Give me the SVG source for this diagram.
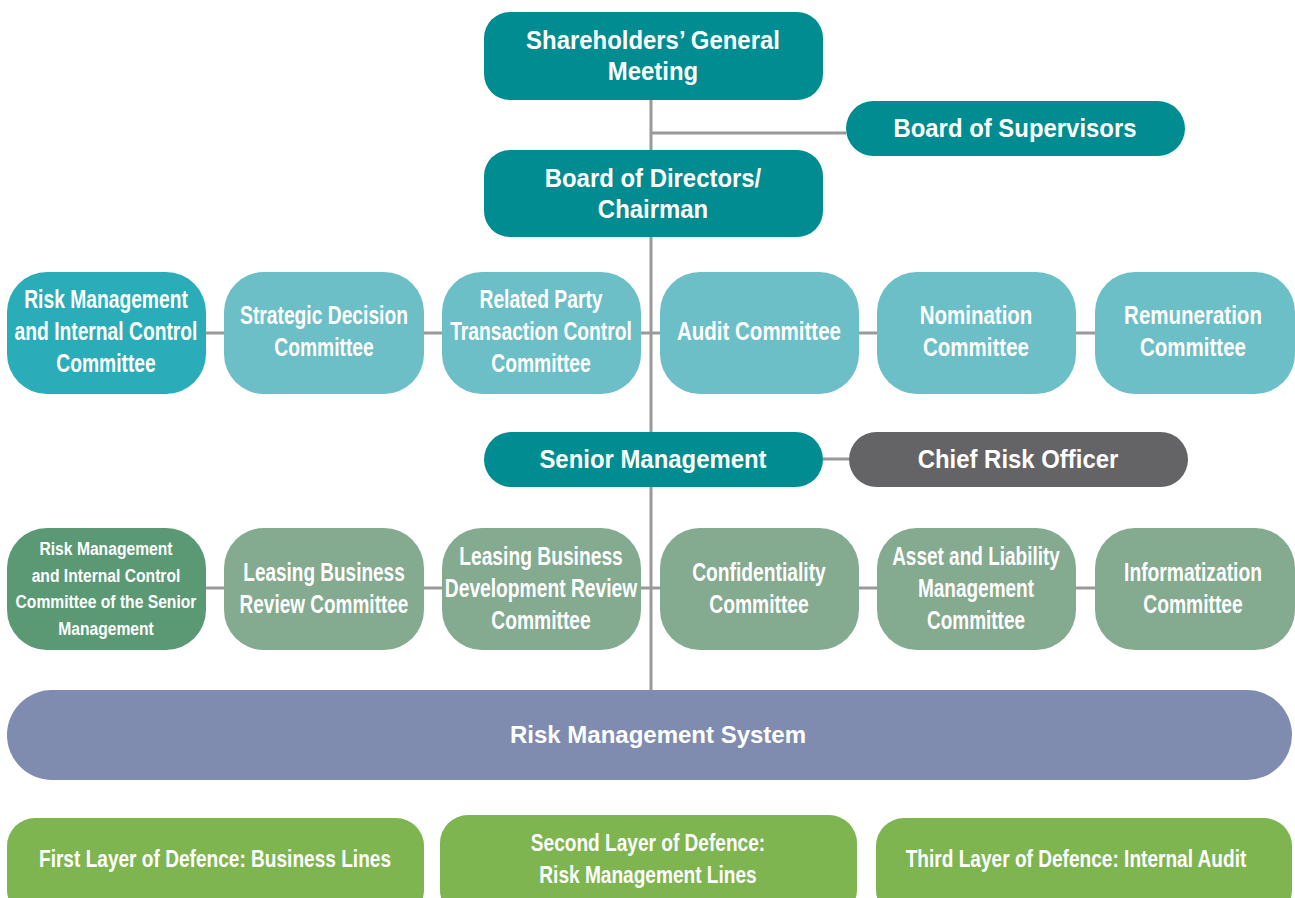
<svg xmlns="http://www.w3.org/2000/svg" width="1295" height="898" viewBox="0 0 1295 898">
<style>
.t{font-family:"Liberation Sans",Arial,sans-serif;font-weight:bold;fill:#fff;text-anchor:middle}
.big{font-size:26px}
.mid{font-size:25px}
.sm{font-size:18px}
.bot{font-size:23px}
.rms{font-size:24px}
.ln{stroke:#999;stroke-width:3;fill:none}
.teal{fill:#008C90}
.c1{fill:#2AADB8}
.c2{fill:#6CBEC7}
.g1{fill:#5A9973}
.g2{fill:#84AA8F}
.gr{fill:#7EB551}
</style>
<rect width="1295" height="898" fill="#fff"/>
<g id="connectors">
<line class="ln" x1="651" y1="100" x2="651" y2="690"/>
<line class="ln" x1="651" y1="133" x2="846" y2="133"/>
<line class="ln" x1="206" y1="333" x2="1095" y2="333"/>
<line class="ln" x1="823" y1="459" x2="849" y2="459"/>
<line class="ln" x1="206" y1="588" x2="1095" y2="588"/>
</g>
<g id="shareholders"><rect class="teal" x="484" y="12" width="339" height="88" rx="26"/><g transform="translate(653 0) scale(0.92 1)"><text class="t big" x="0" y="49">Shareholders’ General</text><text class="t big" x="0" y="80">Meeting</text></g></g>
<g id="supervisors"><rect class="teal" x="846" y="101" width="339" height="55" rx="27.5"/><g transform="translate(1015 0) scale(0.92 1)"><text class="t big" x="0" y="137">Board of Supervisors</text></g></g>
<g id="directors"><rect class="teal" x="484" y="150" width="339" height="87" rx="26"/><g transform="translate(653 0) scale(0.92 1)"><text class="t big" x="0" y="187">Board of Directors/</text><text class="t big" x="0" y="218">Chairman</text></g></g>
<g id="rmicc"><rect class="c1" x="7" y="272" width="199" height="122" rx="40"/><g transform="translate(106 0) scale(0.77 1)"><text class="t mid" x="0" y="308">Risk Management</text><text class="t mid" x="0" y="340">and Internal Control</text><text class="t mid" x="0" y="372">Committee</text></g></g>
<g id="strategic"><rect class="c2" x="224" y="272" width="200" height="122" rx="40"/><g transform="translate(324 0) scale(0.77 1)"><text class="t mid" x="0" y="324">Strategic Decision</text><text class="t mid" x="0" y="356">Committee</text></g></g>
<g id="related"><rect class="c2" x="442" y="272" width="199" height="122" rx="40"/><g transform="translate(541 0) scale(0.77 1)"><text class="t mid" x="0" y="308">Related Party</text><text class="t mid" x="0" y="340">Transaction Control</text><text class="t mid" x="0" y="372">Committee</text></g></g>
<g id="audit"><rect class="c2" x="660" y="272" width="199" height="122" rx="40"/><g transform="translate(759 0) scale(0.82 1)"><text class="t mid" x="0" y="340">Audit Committee</text></g></g>
<g id="nomination"><rect class="c2" x="877" y="272" width="199" height="122" rx="40"/><g transform="translate(976 0) scale(0.82 1)"><text class="t mid" x="0" y="324">Nomination</text><text class="t mid" x="0" y="356">Committee</text></g></g>
<g id="remuneration"><rect class="c2" x="1095" y="272" width="200" height="122" rx="40"/><g transform="translate(1193 0) scale(0.82 1)"><text class="t mid" x="0" y="324">Remuneration</text><text class="t mid" x="0" y="356">Committee</text></g></g>
<g id="senior"><rect class="teal" x="484" y="432" width="339" height="55" rx="27.5"/><g transform="translate(653 0) scale(0.92 1)"><text class="t big" x="0" y="468">Senior Management</text></g></g>
<g id="cro"><rect fill="#646466" x="849" y="432" width="339" height="55" rx="27.5"/><g transform="translate(1018 0) scale(0.92 1)"><text class="t big" x="0" y="468">Chief Risk Officer</text></g></g>
<g id="rmiccsm"><rect class="g1" x="7" y="528" width="199" height="122" rx="40"/><g transform="translate(106 0) scale(0.87 1)"><text class="t sm" x="0" y="555">Risk Management</text><text class="t sm" x="0" y="582">and Internal Control</text><text class="t sm" x="0" y="608">Committee of the Senior</text><text class="t sm" x="0" y="635">Management</text></g></g>
<g id="leasing"><rect class="g2" x="224" y="528" width="200" height="122" rx="40"/><g transform="translate(324 0) scale(0.76 1)"><text class="t mid" x="0" y="581">Leasing Business</text><text class="t mid" x="0" y="613">Review Committee</text></g></g>
<g id="leasingdev"><rect class="g2" x="442" y="528" width="199" height="122" rx="40"/><g transform="translate(541 0) scale(0.77 1)"><text class="t mid" x="0" y="565">Leasing Business</text><text class="t mid" x="0" y="597">Development Review</text><text class="t mid" x="0" y="629">Committee</text></g></g>
<g id="confidentiality"><rect class="g2" x="660" y="528" width="199" height="122" rx="40"/><g transform="translate(759 0) scale(0.77 1)"><text class="t mid" x="0" y="581">Confidentiality</text><text class="t mid" x="0" y="613">Committee</text></g></g>
<g id="alm"><rect class="g2" x="877" y="528" width="199" height="122" rx="40"/><g transform="translate(976 0) scale(0.76 1)"><text class="t mid" x="0" y="565">Asset and Liability</text><text class="t mid" x="0" y="597">Management</text><text class="t mid" x="0" y="629">Committee</text></g></g>
<g id="info"><rect class="g2" x="1095" y="528" width="200" height="122" rx="40"/><g transform="translate(1193 0) scale(0.77 1)"><text class="t mid" x="0" y="581">Informatization</text><text class="t mid" x="0" y="613">Committee</text></g></g>
<g id="rms"><rect fill="#7F8CB0" x="7" y="690" width="1285" height="90" rx="45"/><text class="t rms" x="658" y="743">Risk Management System</text></g>
<g id="first"><rect class="gr" x="7" y="818" width="417" height="100" rx="28"/><g transform="translate(215 0) scale(0.83 1)"><text class="t bot" x="0" y="867">First Layer of Defence: Business Lines</text></g></g>
<g id="second"><rect class="gr" x="440" y="815" width="417" height="103" rx="28"/><g transform="translate(648 0) scale(0.83 1)"><text class="t bot" x="0" y="851">Second Layer of Defence:</text><text class="t bot" x="0" y="883">Risk Management Lines</text></g></g>
<g id="third"><rect class="gr" x="876" y="818" width="416" height="100" rx="28"/><g transform="translate(1076 0) scale(0.83 1)"><text class="t bot" x="0" y="867">Third Layer of Defence: Internal Audit</text></g></g>
</svg>
